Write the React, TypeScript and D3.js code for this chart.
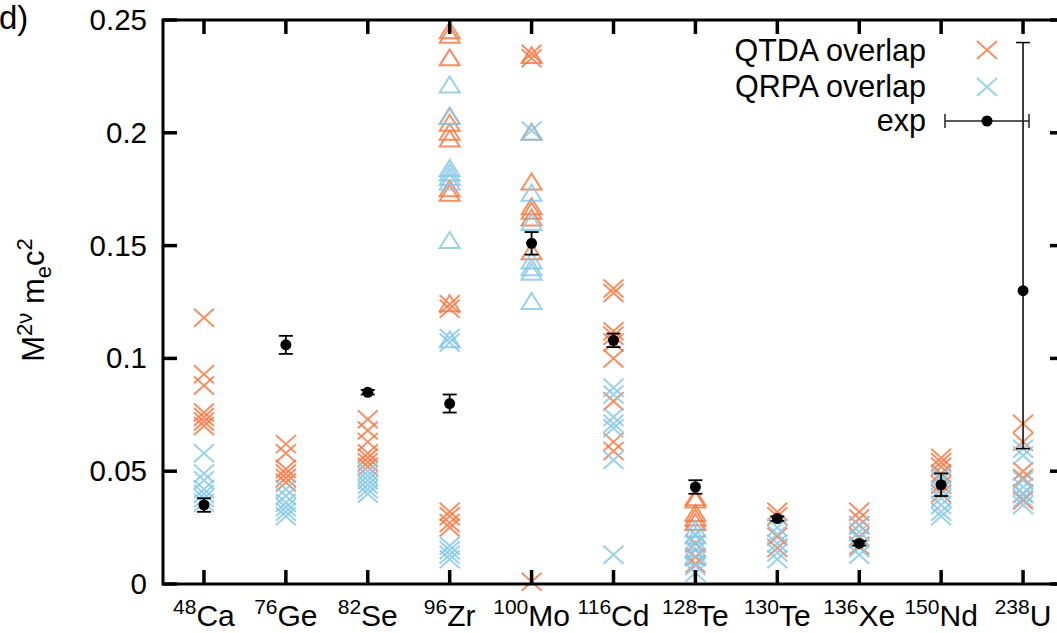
import React from "react";
import * as d3 from "d3";

// nuclei on the x axis
const massNumbers = ["48", "76", "82", "96", "100", "116", "128", "130", "136", "150", "238"];
const elements = ["Ca", "Ge", "Se", "Zr", "Mo", "Cd", "Te", "Te", "Xe", "Nd", "U"];

// QTDA overlap (orange crosses)
const qtdaCross = [
  [0.118, 0.093, 0.088, 0.076, 0.074, 0.072, 0.07],
  [0.062, 0.058, 0.051, 0.049, 0.047, 0.045],
  [0.073, 0.068, 0.063, 0.058, 0.056, 0.054, 0.052],
  [0.124, 0.122, 0.032, 0.03, 0.027, 0.025],
  [0.235, 0.233, 0.001],
  [0.131, 0.129, 0.112, 0.11, 0.107, 0.1, 0.081, 0.063, 0.059],
  [0.018, 0.012, 0.009],
  [0.032, 0.03, 0.021, 0.016],
  [0.032, 0.029, 0.026, 0.021, 0.017],
  [0.056, 0.054, 0.052, 0.049, 0.044, 0.04],
  [0.071, 0.063, 0.05, 0.047, 0.04, 0.037],
];

// QRPA overlap (blue crosses)
const qrpaCross = [
  [0.058, 0.049, 0.046, 0.042, 0.04, 0.038, 0.036],
  [0.042, 0.039, 0.036, 0.034, 0.032, 0.03],
  [0.05, 0.048, 0.046, 0.044, 0.042, 0.04],
  [0.109, 0.107, 0.017, 0.015, 0.013, 0.011],
  [0.201],
  [0.087, 0.084, 0.074, 0.071, 0.069, 0.055, 0.013],
  [0.022, 0.015, 0.008, 0.005],
  [0.025, 0.022, 0.018, 0.014, 0.011],
  [0.026, 0.023, 0.02, 0.016, 0.013],
  [0.048, 0.046, 0.042, 0.038, 0.035, 0.032, 0.03],
  [0.06, 0.057, 0.046, 0.043, 0.04, 0.038, 0.035],
];

// triangles (no key in the legend)
const qtdaTri = [
  [], [], [],
  [0.245, 0.243, 0.233, 0.207, 0.204, 0.2, 0.197, 0.175, 0.173, 0.124],
  [0.234, 0.2, 0.178, 0.167, 0.165, 0.162, 0.147],
  [],
  [0.038, 0.037, 0.031, 0.029, 0.027],
  [], [], [], [],
];
const qrpaTri = [
  [], [], [],
  [0.221, 0.207, 0.184, 0.182, 0.18, 0.178, 0.152, 0.108],
  [0.2, 0.173, 0.16, 0.143, 0.14, 0.138, 0.125],
  [],
  [0.024, 0.021, 0.018, 0.015, 0.012],
  [], [], [], [],
];

// experiment
const expValue = [0.035, 0.106, 0.085, 0.08, 0.151, 0.108, 0.043, 0.029, 0.018, 0.044, 0.13];
const expLow = [0.032, 0.102, 0.084, 0.076, 0.146, 0.105, 0.04, 0.028, 0.017, 0.039, 0.06];
const expHigh = [0.038, 0.11, 0.086, 0.084, 0.156, 0.111, 0.046, 0.03, 0.019, 0.049, 0.24];

const yTicks = [0, 0.05, 0.1, 0.15, 0.2, 0.25];

const W = 1057;
const H = 633;
const left = 163, right = 1064, top = 20, bottom = 584;
const orange = "#f47b48";
const blue = "#87c8e6";
const font = "'Liberation Sans', Arial, sans-serif";

const Cross = ({ x, y, color }) => (
  <path
    d={`M${x - 10},${y - 9}L${x + 10},${y + 9}M${x - 10},${y + 9}L${x + 10},${y - 9}`}
    stroke={color}
    strokeWidth={2}
    strokeOpacity={0.85}
    fill="none"
  />
);

const Tri = ({ x, y, color }) => (
  <path
    d={`M${x},${y - 9}L${x + 10},${y + 7}L${x - 10},${y + 7}Z`}
    stroke={color}
    strokeWidth={2}
    strokeOpacity={0.85}
    fill="none"
  />
);

const ErrBar = ({ x, y, lo, hi, w = 1.8 }) => (
  <g stroke="#000" strokeWidth={w}>
    <line x1={x} x2={x} y1={lo} y2={hi} />
    <line x1={x - 7} x2={x + 7} y1={lo} y2={lo} />
    <line x1={x - 7} x2={x + 7} y1={hi} y2={hi} />
    <circle cx={x} cy={y} r={5.5} fill="#000" stroke="none" />
  </g>
);

export default function App() {
  const idx = massNumbers.map((_, i) => i);
  const x = d3.scaleLinear().domain([-0.5, idx.length - 0.5]).range([left, right]);
  const y = d3.scaleLinear().domain([0, 0.25]).range([bottom, top]);

  const marks = (series, Shape, color, key) =>
    series.flatMap((vals, i) =>
      vals.map((v, j) => <Shape key={`${key}-${i}-${j}`} x={x(i)} y={y(v)} color={color} />)
    );

  return (
    <svg
      width={W}
      height={H}
      style={{ position: "absolute", left: 0, top: 0, background: "#fff" }}
      fontFamily={font}
    >
      <text x={-1} y={29} fontSize={33}>d)</text>

      {/* y label */}
      <text transform="translate(44,300) rotate(-90)" textAnchor="middle" fontSize={31}>
        M<tspan fontSize={22} dy={-12}>2ν</tspan>
        <tspan dy={12}> m</tspan>
        <tspan fontSize={22} dy={7}>e</tspan>
        <tspan dy={-7}>c</tspan>
        <tspan fontSize={22} dy={-12}>2</tspan>
      </text>

      {/* y tick labels */}
      {yTicks.map((t) => (
        <text key={t} x={147} y={y(t) + 10} textAnchor="end" fontSize={29.5}>
          {t === 0 ? "0" : d3.format("")(t)}
        </text>
      ))}

      {/* x labels */}
      {idx.map((i) => (
        <text key={i} x={x(i)} y={626} textAnchor="middle" fontSize={30}>
          <tspan fontSize={21} dy={-12}>{massNumbers[i]}</tspan>
          <tspan dy={12}>{elements[i]}</tspan>
        </text>
      ))}

      {/* data */}
      {marks(qtdaCross, Cross, orange, "oc")}
      {marks(qrpaCross, Cross, blue, "bc")}
      {marks(qtdaTri, Tri, orange, "ot")}
      {marks(qrpaTri, Tri, blue, "bt")}
      {idx.map((i) => (
        <ErrBar
          key={`e${i}`}
          x={x(i)}
          y={y(expValue[i])}
          lo={y(expLow[i])}
          hi={y(expHigh[i])}
          w={i === idx.length - 1 ? 1.5 : 1.8}
        />
      ))}

      {/* legend */}
      <g fontSize={30.5} textAnchor="end">
        <text x={926} y={61}>QTDA overlap</text>
        <text x={926} y={97}>QRPA overlap</text>
        <text x={926} y={131}>exp</text>
      </g>
      <Cross x={987} y={50} color={orange} />
      <Cross x={987} y={87} color={blue} />
      <g stroke="#222" strokeWidth={1.5}>
        <line x1={945} x2={1029} y1={121} y2={121} />
        <line x1={945} x2={945} y1={114} y2={128} />
        <line x1={1029} x2={1029} y1={114} y2={128} />
        <circle cx={987} cy={121} r={5.5} fill="#000" stroke="none" />
      </g>

      {/* frame and ticks */}
      <g stroke="#000" strokeWidth={3.5} fill="none">
        <rect x={left} y={top} width={right - left} height={bottom - top} strokeWidth={3} />
        {yTicks.map((t) => (
          <g key={`yt${t}`}>
            <line x1={left} x2={left + 14} y1={y(t)} y2={y(t)} />
            <line x1={right} x2={right - 14} y1={y(t)} y2={y(t)} />
          </g>
        ))}
        {idx.map((i) => (
          <g key={`xt${i}`}>
            <line x1={x(i)} x2={x(i)} y1={bottom} y2={bottom - 14} />
            <line x1={x(i)} x2={x(i)} y1={top} y2={top + 14} />
          </g>
        ))}
      </g>
    </svg>
  );
}
